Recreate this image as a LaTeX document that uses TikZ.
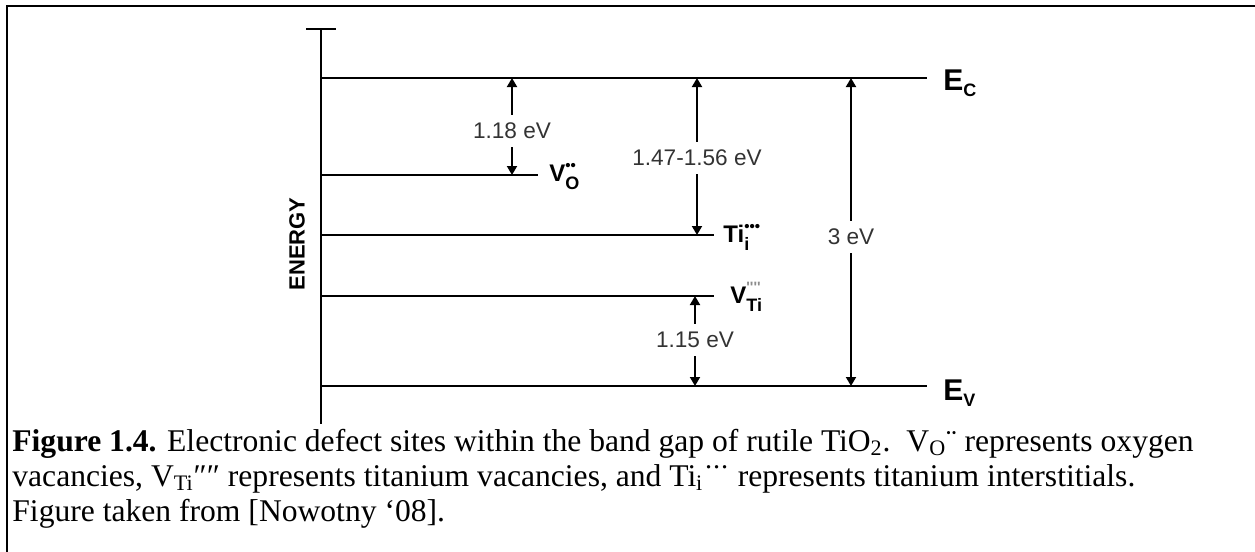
\documentclass[tikz,border=0pt]{standalone}
\usepackage{fontspec}
\setmainfont{Liberation Serif}
\newfontfamily\labelfont{Liberation Sans}
\usetikzlibrary{arrows.meta,positioning,calc}
\tikzset{level/.style={line width=1.2pt},
  dim/.style={-{Triangle[length=4.5pt,width=5pt]},line width=0.9pt},
  gaplabel/.style={font=\labelfont\fontsize{11.3}{13}\selectfont,inner sep=4pt,text=black!80},
  site/.style={font=\labelfont\bfseries\fontsize{12}{14}\selectfont,anchor=base west,inner sep=0pt},
  band/.style={font=\labelfont\bfseries\fontsize{15}{17}\selectfont,anchor=base west,inner sep=0pt},
  capline/.style={font=\fontsize{15.8}{18}\selectfont,anchor=base west,inner sep=0pt}}
% defect label: base, subscript, superscript stacked
\newcommand{\defsite}[3]{#1\rlap{\raisebox{5.5pt}{\fontsize{7.5}{8}\selectfont#3}}\raisebox{-4pt}{\fontsize{9}{10}\selectfont#2}}

\begin{document}
\begin{tikzpicture}[x=0.5pt,y=-0.5pt]
\useasboundingbox (0,0) rectangle (1255,552);
% frame
\draw[line width=1.2pt] (6,6) -- (1255,6);
\draw[line width=1pt] (7,6) -- (7,552);
% energy axis
\coordinate (axtop) at (321,29);
\coordinate (axbot) at (321,424);
\draw[line width=1.2pt] (axtop) -- (axbot);
\draw[line width=1.2pt] (306,29) -- (336,29);
\node[rotate=90,font=\labelfont\bfseries\fontsize{11}{13}\selectfont] (energy) at (297,244) {ENERGY};
% levels
\coordinate (Ec) at (321,78);   \coordinate (EcEnd) at (927,78);
\coordinate (VO) at (321,175);  \coordinate (VOEnd) at (538,175);
\coordinate (Tii) at (321,235); \coordinate (TiiEnd) at (714,235);
\coordinate (VTi) at (321,296); \coordinate (VTiEnd) at (714,296);
\coordinate (Ev) at (321,386);  \coordinate (EvEnd) at (927,386);
\foreach \a/\b in {Ec/EcEnd,VO/VOEnd,Tii/TiiEnd,VTi/VTiEnd,Ev/EvEnd}
  \draw[level] (\a) -- (\b);
\node[band] (EcLbl) at (943,90) {E\raisebox{-3pt}{\fontsize{9}{10}\selectfont C}};
\node[band] (EvLbl) at (943,400) {E\raisebox{-3pt}{\fontsize{9}{10}\selectfont V}};
\node[site] (VOLbl) at (549,181) {\defsite{V}{O}{••}};
\node[site] (TiiLbl) at (723,242) {\defsite{Ti}{i}{•••}};
\node[site] (VTiLbl) at (730,303) {\defsite{V}{Ti}{\color{black!45}\textquotesingle\textquotesingle\textquotesingle\textquotesingle}};
% gaps
\node[gaplabel] (g118) at (512,131) {1.18 eV};
\node[gaplabel] (g147) at (697,158) {1.47-1.56 eV};
\node[gaplabel] (g3) at (851,237) {3 eV};
\node[gaplabel] (g115) at (695,340) {1.15 eV};
\draw[dim] (g118) -- (g118 |- Ec);
\draw[dim] (g118) -- (g118 |- VO);
\draw[dim] (g147) -- (g147 |- Ec);
\draw[dim] (g147) -- (g147 |- Tii);
\draw[dim] (g3) -- (g3 |- Ec);
\draw[dim] (g3) -- (g3 |- Ev);
\draw[dim] (g115) -- (g115 |- VTi);
\draw[dim] (g115) -- (g115 |- Ev);
% caption
\node[capline] (cap1) at (12,451) {\textbf{Figure 1.4.} Electronic defect sites within the band gap of rutile TiO\textsubscript{2}.\ \ V\textsubscript{O}¨ represents oxygen};
\node[capline] (cap2) at (12,486) {vacancies, V\textsubscript{Ti}″″ represents titanium vacancies, and Ti\textsubscript{i}˙\kern-0.08em˙\kern-0.08em˙ represents titanium interstitials.};
\node[capline] (cap3) at (12,521) {Figure taken from [Nowotny `08].};
\end{tikzpicture}
\end{document}
